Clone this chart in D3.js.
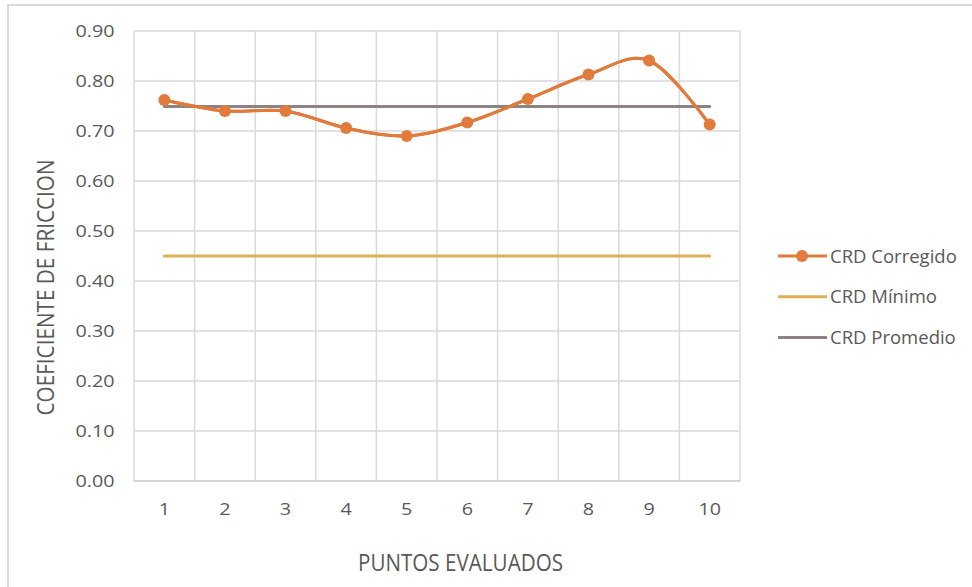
<!DOCTYPE html>
<html>
<head>
<meta charset="utf-8">
<script src="https://cdn.jsdelivr.net/npm/d3@7"></script>
<style>
  html, body { margin: 0; padding: 0; background: #fff; }
  svg { display: block; }
  text { font-family: "Open Sans", Lato, sans-serif; fill: #595959; }
</style>
</head>
<body>
<script>
// Puntos evaluados y coeficientes de fricción
const puntos = ["1", "2", "3", "4", "5", "6", "7", "8", "9", "10"];
const crdCorregido = [0.762, 0.740, 0.740, 0.706, 0.690, 0.717, 0.764, 0.813, 0.841, 0.713];
const crdMinimo = [0.45, 0.45, 0.45, 0.45, 0.45, 0.45, 0.45, 0.45, 0.45, 0.45];
const crdPromedio = [0.749, 0.749, 0.749, 0.749, 0.749, 0.749, 0.749, 0.749, 0.749, 0.749];
const yTicks = [0, 0.1, 0.2, 0.3, 0.4, 0.5, 0.6, 0.7, 0.8, 0.9];

const series = [
  { name: "CRD Corregido", values: crdCorregido, color: "#E07B3B", marker: true },
  { name: "CRD Mínimo", values: crdMinimo, color: "#DDB052", marker: false },
  { name: "CRD Promedio", values: crdPromedio, color: "#8C8383", marker: false }
];

const W = 972, H = 587;
const plot = { left: 134, right: 740, top: 31, bottom: 481 };
const FONT = "'Open Sans', Lato, sans-serif";

// widen or narrow a label horizontally while keeping its height
function stretch(sel, factor) {
  sel.each(function () {
    const w = this.getComputedTextLength();
    d3.select(this).attr("textLength", w * factor).attr("lengthAdjust", "spacingAndGlyphs");
  });
}

const svg = d3.select("body").append("svg").attr("width", W).attr("height", H);

// chart frame
svg.append("rect").attr("x", 8).attr("y", 5).attr("width", W + 20).attr("height", H + 20)
  .attr("fill", "#fff").attr("stroke", "#D9D9D9").attr("stroke-width", 2);

const x = d3.scaleBand().domain(puntos).range([plot.left, plot.right]);
const y = d3.scaleLinear().domain([0, 0.9]).range([plot.bottom, plot.top]);
const cx = d => x(d) + x.bandwidth() / 2;

// horizontal gridlines
svg.append("g").selectAll("line").data(yTicks).join("line")
  .attr("x1", plot.left).attr("x2", plot.right)
  .attr("y1", d => y(d)).attr("y2", d => y(d))
  .attr("stroke", "#D9D9D9").attr("stroke-width", 1.5);

// vertical gridlines at category boundaries
const bounds = puntos.map(p => x(p)).concat([plot.right]);
svg.append("g").selectAll("line").data(bounds).join("line")
  .attr("x1", d => d).attr("x2", d => d)
  .attr("y1", plot.top).attr("y2", plot.bottom)
  .attr("stroke", "#D9D9D9").attr("stroke-width", 1.5);

// axis line
svg.append("line").attr("x1", plot.left).attr("x2", plot.right)
  .attr("y1", plot.bottom).attr("y2", plot.bottom)
  .attr("stroke", "#D0D0D0").attr("stroke-width", 1.5);

// y tick labels
const yAxis = d3.axisLeft(y).tickValues(yTicks).tickFormat(d3.format(".2f")).tickSize(0).tickPadding(19.5);
const gy = svg.append("g").attr("transform", `translate(${plot.left},0)`).call(yAxis);
gy.select(".domain").remove();
gy.selectAll("text").attr("font-size", 17.2).attr("fill", "#595959")
  .style("font-family", FONT).call(stretch, 1.15);

// x tick labels
const xAxis = d3.axisBottom(x).tickSize(0).tickPadding(22);
const gx = svg.append("g").attr("transform", `translate(0,${plot.bottom})`).call(xAxis);
gx.select(".domain").remove();
gx.selectAll("text").attr("font-size", 17.2).attr("fill", "#595959")
  .style("font-family", FONT).call(stretch, 1.15);

// axis titles
svg.append("text").attr("x", 460.5).attr("y", 570.5)
  .attr("text-anchor", "middle").attr("font-size", 24.5)
  .attr("textLength", 205).attr("lengthAdjust", "spacingAndGlyphs")
  .text("PUNTOS EVALUADOS");
svg.append("text").attr("transform", "translate(53.5,287.5) rotate(-90)")
  .attr("text-anchor", "middle").attr("font-size", 23.5)
  .attr("textLength", 256).attr("lengthAdjust", "spacingAndGlyphs")
  .text("COEFICIENTE DE FRICCION");

// series lines
const lineFor = (curve) => d3.line()
  .x((d, i) => cx(puntos[i])).y(d => y(d)).curve(curve);

series.slice().reverse().forEach(s => {
  const curve = s.marker ? d3.curveCatmullRom.alpha(0) : d3.curveLinear;
  svg.append("path").datum(s.values)
    .attr("d", lineFor(curve))
    .attr("fill", "none").attr("stroke", s.color).attr("stroke-width", 3)
    .attr("stroke-linecap", "round");
});

// draw the trend line above the reference lines
const corr = series[0];
svg.append("path").datum(corr.values)
  .attr("d", lineFor(d3.curveCatmullRom.alpha(0)))
  .attr("fill", "none").attr("stroke", corr.color).attr("stroke-width", 3)
  .attr("stroke-linecap", "round");
svg.append("g").selectAll("circle").data(corr.values).join("circle")
  .attr("cx", (d, i) => cx(puntos[i])).attr("cy", d => y(d)).attr("r", 6)
  .attr("fill", corr.color);

// legend
const leg = svg.append("g");
series.forEach((s, i) => {
  const ly = 256 + i * 40.7;
  leg.append("line").attr("x1", 778).attr("x2", 827).attr("y1", ly).attr("y2", ly)
    .attr("stroke", s.color).attr("stroke-width", 3);
  if (s.marker) leg.append("circle").attr("cx", 802).attr("cy", ly).attr("r", 6).attr("fill", s.color);
  leg.append("text").attr("x", 830).attr("y", ly + 6.7).attr("font-size", 18.5).text(s.name);
});
</script>
</body>
</html>
